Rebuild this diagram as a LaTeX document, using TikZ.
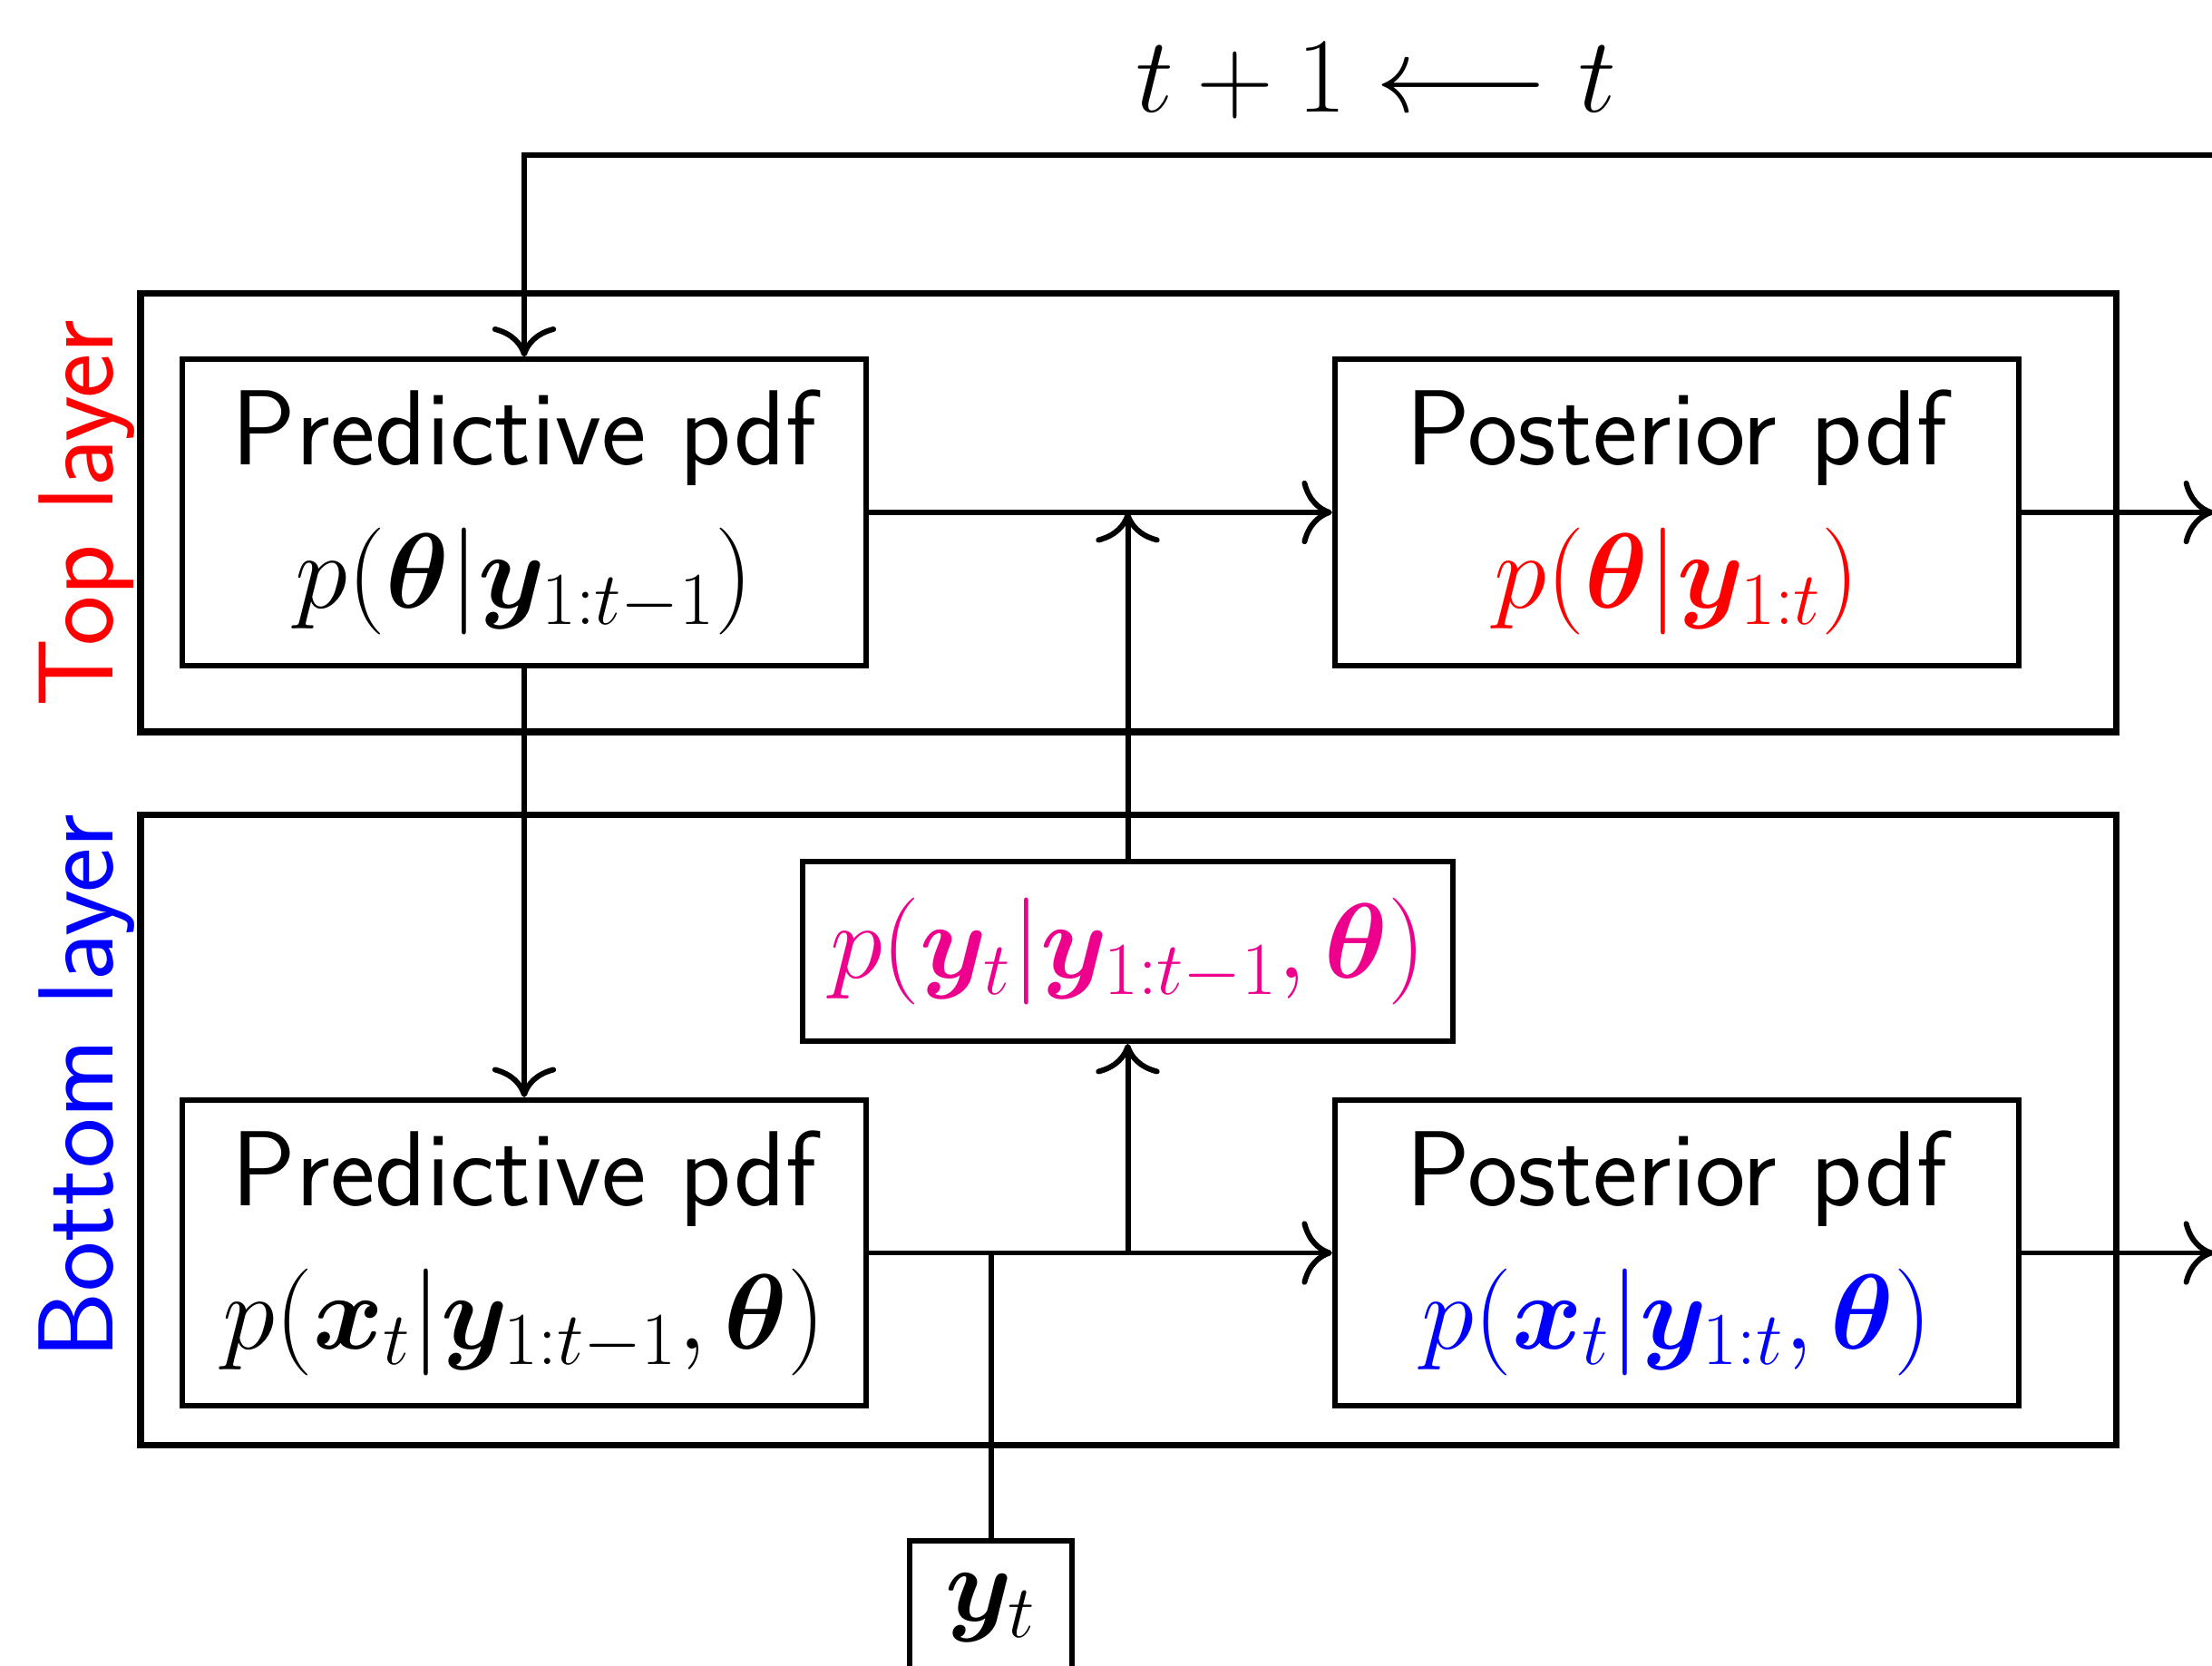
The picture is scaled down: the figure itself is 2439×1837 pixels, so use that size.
\RequirePackage{fix-cm}
\documentclass[tikz,border=0pt]{standalone}
\usepackage{bm}
\usetikzlibrary{arrows.meta}
\definecolor{rubine}{RGB}{236,0,140}
\begin{document}
\begin{tikzpicture}[x=0.01cm,y=-0.01cm,
  every node/.style={font=\sffamily\fontsize{33.5}{45}\selectfont},
  pdfbox/.style={draw,line width=1.7pt,minimum width=7.54cm,minimum height=3.37cm,align=center,inner sep=0pt},
  layerbox/.style={draw,line width=2.1pt,inner sep=0pt,minimum width=21.775cm},
  flow/.style={line width=1.7pt,-{Computer Modern Rightarrow[length=9.5pt,width=20pt]}},
  wire/.style={line width=1.7pt},
  ]
\clip (0,0) rectangle (2439,1837);

% layer frames and their labels
\node[layerbox,minimum height=4.835cm] (topL) at (1244.25,565.25) {};
\node[layerbox,minimum height=6.94cm] (botL) at (1244.25,1246) {};
\node[rotate=90,text=red] (topLab) at (96,566) {Top layer};
\node[rotate=90,text=blue] (botLab) at (96,1198) {Bottom layer};

% time step label
\node (tick) at (1517,89) {$t+1\longleftarrow t$};

% densities
\node[pdfbox] (predT) at (578,565) {Predictive pdf\\ $p(\bm{\theta}|\bm{y}_{1:t-1})$};
\node[pdfbox] (postT) at (1849,565) {Posterior pdf\\ \textcolor{red}{$p(\bm{\theta}|\bm{y}_{1:t})$}};
\node[pdfbox,minimum width=7.17cm,minimum height=1.98cm] (mid) at (1243.5,1049) {\textcolor{rubine}{$p(\bm{y}_t|\bm{y}_{1:t-1},\bm{\theta})$}};
\node[pdfbox] (predB) at (578,1381.5) {Predictive pdf\\ $p(\bm{x}_t|\bm{y}_{1:t-1},\bm{\theta})$};
\node[pdfbox] (postB) at (1849,1381.5) {Posterior pdf\\ \textcolor{blue}{$p(\bm{x}_t|\bm{y}_{1:t},\bm{\theta})$}};
\node[pdfbox,minimum width=1.79cm,minimum height=1.48cm] (yt) at (1092.5,1773) {$\bm{y}_t$};

% feedback from the previous step
\coordinate (fbIn) at (2460,171);
\coordinate (fbCorner) at (predT.north |- fbIn);
\draw[flow] (fbIn) -- (fbCorner) -- (predT.north);

% top layer flow
\draw[flow] (predT.east) -- (postT.west);
\coordinate (jT) at (mid.north |- predT.east);
\draw[flow] (mid.north) -- (jT);
\coordinate (outT) at (2441,565);
\draw[flow] (postT.east) -- (outT);

% between layers
\draw[flow] (predT.south) -- (predB.north);

% bottom layer flow
\draw[flow] (predB.east) -- (postB.west);
\coordinate (jB) at (mid.south |- predB.east);
\draw[flow] (jB) -- (mid.south);
\coordinate (jY) at (yt.north |- predB.east);
\draw[wire] (yt.north) -- (jY);
\coordinate (outB) at (2441,1381.5);
\draw[flow] (postB.east) -- (outB);
\end{tikzpicture}
\end{document}
